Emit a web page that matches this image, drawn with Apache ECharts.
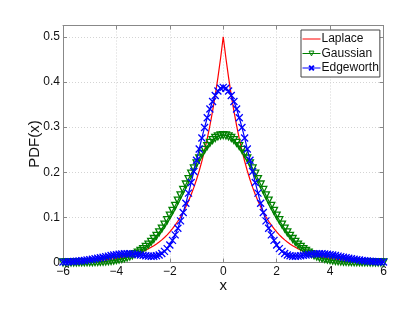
<!DOCTYPE html>
<html><head><meta charset="utf-8">
<script src="https://cdn.jsdelivr.net/npm/echarts@6/dist/echarts.min.js"></script>
<style>html,body{margin:0;padding:0;background:#fff;}#c{width:407px;height:315px;}</style>
</head><body><div id="c"></div>
<script>
const xs=[-6.0,-5.9,-5.8,-5.7,-5.6,-5.5,-5.4,-5.3,-5.2,-5.1,-5.0,-4.9,-4.8,-4.7,-4.6,-4.5,-4.4,-4.3,-4.2,-4.1,-4.0,-3.9,-3.8,-3.7,-3.6,-3.5,-3.4,-3.3,-3.2,-3.1,-3.0,-2.9,-2.8,-2.7,-2.6,-2.5,-2.4,-2.3,-2.2,-2.1,-2.0,-1.9,-1.8,-1.7,-1.6,-1.5,-1.4,-1.3,-1.2,-1.1,-1.0,-0.9,-0.8,-0.7,-0.6,-0.5,-0.4,-0.3,-0.2,-0.1,0.0,0.1,0.2,0.3,0.4,0.5,0.6,0.7,0.8,0.9,1.0,1.1,1.2,1.3,1.4,1.5,1.6,1.7,1.8,1.9,2.0,2.1,2.2,2.3,2.4,2.5,2.6,2.7,2.8,2.9,3.0,3.1,3.2,3.3,3.4,3.5,3.6,3.7,3.8,3.9,4.0,4.1,4.2,4.3,4.4,4.5,4.6,4.7,4.8,4.9,5.0,5.1,5.2,5.3,5.4,5.5,5.6,5.7,5.8,5.9,6.0];
const laplace=[0.0012,0.0014,0.0015,0.0017,0.0018,0.0020,0.0023,0.0025,0.0028,0.0030,0.0034,0.0037,0.0041,0.0045,0.0050,0.0056,0.0061,0.0068,0.0075,0.0083,0.0092,0.0101,0.0112,0.0124,0.0137,0.0151,0.0167,0.0184,0.0204,0.0225,0.0249,0.0275,0.0304,0.0336,0.0371,0.0410,0.0454,0.0501,0.0554,0.0612,0.0677,0.0748,0.0826,0.0913,0.1009,0.1116,0.1233,0.1363,0.1506,0.1664,0.1839,0.2033,0.2247,0.2483,0.2744,0.3033,0.3352,0.3704,0.4094,0.4524,0.5000,0.4524,0.4094,0.3704,0.3352,0.3033,0.2744,0.2483,0.2247,0.2033,0.1839,0.1664,0.1506,0.1363,0.1233,0.1116,0.1009,0.0913,0.0826,0.0748,0.0677,0.0612,0.0554,0.0501,0.0454,0.0410,0.0371,0.0336,0.0304,0.0275,0.0249,0.0225,0.0204,0.0184,0.0167,0.0151,0.0137,0.0124,0.0112,0.0101,0.0092,0.0083,0.0075,0.0068,0.0061,0.0056,0.0050,0.0045,0.0041,0.0037,0.0034,0.0030,0.0028,0.0025,0.0023,0.0020,0.0018,0.0017,0.0015,0.0014,0.0012];
const gaussian=[0.0000,0.0000,0.0001,0.0001,0.0001,0.0001,0.0002,0.0003,0.0003,0.0004,0.0005,0.0007,0.0009,0.0011,0.0014,0.0018,0.0022,0.0028,0.0034,0.0042,0.0052,0.0063,0.0076,0.0092,0.0111,0.0132,0.0157,0.0185,0.0218,0.0255,0.0297,0.0345,0.0397,0.0456,0.0521,0.0591,0.0668,0.0752,0.0841,0.0937,0.1038,0.1144,0.1255,0.1370,0.1487,0.1607,0.1728,0.1849,0.1968,0.2084,0.2197,0.2304,0.2404,0.2496,0.2578,0.2650,0.2710,0.2758,0.2793,0.2814,0.2821,0.2814,0.2793,0.2758,0.2710,0.2650,0.2578,0.2496,0.2404,0.2304,0.2197,0.2084,0.1968,0.1849,0.1728,0.1607,0.1487,0.1370,0.1255,0.1144,0.1038,0.0937,0.0841,0.0752,0.0668,0.0591,0.0521,0.0456,0.0397,0.0345,0.0297,0.0255,0.0218,0.0185,0.0157,0.0132,0.0111,0.0092,0.0076,0.0063,0.0052,0.0042,0.0034,0.0028,0.0022,0.0018,0.0014,0.0011,0.0009,0.0007,0.0005,0.0004,0.0003,0.0003,0.0002,0.0001,0.0001,0.0001,0.0001,0.0000,0.0000];
const edgeworth=[0.0010,0.0012,0.0015,0.0019,0.0023,0.0027,0.0033,0.0039,0.0046,0.0054,0.0063,0.0072,0.0083,0.0094,0.0106,0.0118,0.0130,0.0142,0.0154,0.0165,0.0174,0.0183,0.0189,0.0193,0.0195,0.0194,0.0191,0.0185,0.0177,0.0168,0.0158,0.0149,0.0141,0.0138,0.0140,0.0149,0.0168,0.0200,0.0246,0.0308,0.0389,0.0490,0.0612,0.0757,0.0922,0.1108,0.1313,0.1536,0.1771,0.2015,0.2266,0.2515,0.2759,0.2992,0.3207,0.3400,0.3566,0.3700,0.3799,0.3859,0.3879,0.3859,0.3799,0.3700,0.3566,0.3400,0.3207,0.2992,0.2759,0.2515,0.2266,0.2015,0.1771,0.1536,0.1313,0.1108,0.0922,0.0757,0.0612,0.0490,0.0389,0.0308,0.0246,0.0200,0.0168,0.0149,0.0140,0.0138,0.0141,0.0149,0.0158,0.0168,0.0177,0.0185,0.0191,0.0194,0.0195,0.0193,0.0189,0.0183,0.0174,0.0165,0.0154,0.0142,0.0130,0.0118,0.0106,0.0094,0.0083,0.0072,0.0063,0.0054,0.0046,0.0039,0.0033,0.0027,0.0023,0.0019,0.0015,0.0012,0.0010];
const seriesNames=['Laplace','Gaussian','Edgeworth'];

const pairs=arr=>xs.map((x,i)=>[x,arr[i]]);
const FONT='"Liberation Sans", Arial, Helvetica, sans-serif';
const axisCol='#888';
const gridCol='#d4d4d4';
const chart=echarts.init(document.getElementById('c'),null,{renderer:'canvas'});
const fmtX=v=>v<0?'\u2212'+(-v):String(v);
chart.setOption({
  animation:false,
  backgroundColor:'#fff',
  grid:{left:63,right:23.5,top:25.5,bottom:52.5},
  legend:{
    data:[
      {name:seriesNames[0],itemStyle:{opacity:0}},
      {name:seriesNames[1],itemStyle:{color:'rgba(0,0,0,0)',borderColor:'#008000',borderWidth:1}},
      {name:seriesNames[2]}],
    orient:'vertical',left:301,top:30,
    padding:[2,1,2,1],itemGap:0.5,itemWidth:18,itemHeight:6,
    lineStyle:{width:1},
    backgroundColor:'#fff',borderColor:'#444',borderWidth:1,borderRadius:0,
    textStyle:{fontFamily:FONT,fontSize:12,color:'#111',padding:[0,0,0,-4],lineHeight:14}
  },
  xAxis:[{
    type:'value',min:-6,max:6,interval:2,
    name:'x',nameLocation:'middle',nameGap:16,nameMoveOverlap:false,
    nameTextStyle:{fontFamily:FONT,fontSize:15,color:'#111'},
    axisLine:{show:true,onZero:false,lineStyle:{color:axisCol,width:1}},
    axisTick:{show:true,inside:true,length:4,lineStyle:{color:axisCol}},
    axisLabel:{fontFamily:FONT,fontSize:12,color:'#111',margin:3,formatter:fmtX},
    splitLine:{show:true,lineStyle:{type:[1,2],color:gridCol,width:1}}
  },{
    type:'value',min:-6,max:6,interval:2,position:'top',
    axisLine:{show:true,onZero:false,lineStyle:{color:axisCol,width:1}},
    axisTick:{show:true,inside:true,length:4,lineStyle:{color:axisCol}},
    axisLabel:{show:false},splitLine:{show:false}
  }],
  yAxis:[{
    type:'value',min:0,max:0.525,interval:0.1,
    name:'PDF(x)',nameLocation:'middle',nameGap:21,nameRotate:90,nameMoveOverlap:false,
    nameTextStyle:{fontFamily:FONT,fontSize:15,color:'#111'},
    axisLine:{show:true,onZero:false,lineStyle:{color:axisCol,width:1}},
    axisTick:{show:true,inside:true,length:4,lineStyle:{color:axisCol}},
    axisLabel:{fontFamily:FONT,fontSize:12,color:'#111',margin:3,showMaxLabel:false,
      formatter:v=>Math.abs(v*10-Math.round(v*10))<1e-6?String(Math.round(v*10)/10):''},
    splitLine:{show:true,lineStyle:{type:[1,2],color:gridCol,width:1}}
  },{
    type:'value',min:0,max:0.525,interval:0.1,position:'right',
    axisLine:{show:true,onZero:false,lineStyle:{color:axisCol,width:1}},
    axisTick:{show:true,inside:true,length:4,lineStyle:{color:axisCol}},
    axisLabel:{show:false},splitLine:{show:false}
  }],
  series:[
    {name:seriesNames[0],type:'line',data:pairs(laplace),showSymbol:false,symbol:'none',
     lineStyle:{color:'#ff0000',width:1.2},itemStyle:{color:'#ff0000'},z:2},
    {name:seriesNames[1],type:'line',data:pairs(gaussian),symbol:'triangle',symbolSize:7,symbolRotate:180,
     showAllSymbol:true,
     lineStyle:{color:'#008000',width:1.2},itemStyle:{color:'rgba(0,0,0,0)',borderColor:'#008000',borderWidth:1.3},z:3},
    {name:seriesNames[2],type:'line',data:pairs(edgeworth),symbol:'path://M0,0L10,10M0,10L10,0',symbolSize:7,
     showAllSymbol:true,
     lineStyle:{color:'#0000ff',width:1.2},itemStyle:{color:'rgba(0,0,0,0)',borderColor:'#0000ff',borderWidth:1.3},z:4}
  ]
});
</script></body></html>
